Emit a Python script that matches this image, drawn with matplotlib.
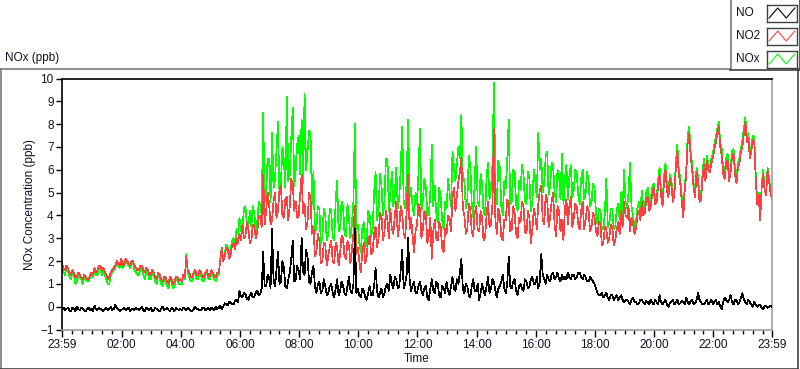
import numpy as np
import matplotlib
matplotlib.use("Agg")
import matplotlib.pyplot as plt
from matplotlib.lines import Line2D

plt.rcParams['font.family'] = ['Liberation Sans', 'DejaVu Sans']

# ---- data: values every 3 minutes, from 23:59 (0 h) to 23:59 next day (24 h) ----
hours = np.linspace(0, 24, 481)

no2 = [
    1.9,1.7,1.6,1.8,1.7,1.5,1.4,1.6,1.5,1.3, 1.3,1.5,1.4,1.3,1.2,1.4,1.3,1.2,1.2,1.4,
    1.5,1.4,1.7,1.5,1.6,1.8,1.8,1.6,1.7,1.5, 1.4,1.2,1.3,1.5,1.6,1.7,1.8,2.0,1.9,1.8,
    2.1,1.8,1.9,2.1,2.0,1.9,1.8,2.0,2.0,1.8, 1.7,1.6,1.6,1.8,1.8,1.6,1.5,1.7,1.6,1.4,
    1.4,1.6,1.5,1.3,1.2,1.5,1.4,1.2,1.1,1.3, 1.3,1.1,1.0,1.3,1.2,1.0,1.1,1.3,1.3,1.1,
    1.2,1.1,1.4,1.3,2.2,1.6,1.5,1.3,1.3,1.5, 1.6,1.4,1.4,1.6,1.5,1.3,1.3,1.5,1.6,1.3,
    1.4,1.6,1.5,1.3,1.3,1.5,1.5,2.0,2.6,2.0, 2.2,2.6,2.5,2.1,2.3,2.7,2.8,2.5,3.0,2.8,
    3.2,2.9,3.6,3.0,3.1,3.7,3.4,2.8,2.9,3.6, 3.5,3.0,3.3,3.9,4.0,3.5,5.8,3.6,4.2,5.0,
    4.5,3.6,3.8,4.6,5.0,3.9,4.2,5.1,5.3,4.0, 3.9,4.7,4.8,3.8,4.4,5.6,5.4,4.2,4.6,3.9,
    4.0,4.9,5.8,4.1,4.5,3.4,3.7,5.0,4.8,3.2, 3.5,2.2,2.4,3.2,2.9,1.9,2.0,2.8,2.7,1.8,
    2.2,2.6,2.9,2.0,1.9,2.8,2.6,1.8,2.3,3.1, 3.0,2.2,2.1,2.9,2.7,1.9,2.5,3.2,4.4,2.3,
    2.6,2.0,1.5,2.4,2.8,1.9,2.2,3.0,3.1,2.3, 2.4,3.2,3.5,2.6,3.0,4.1,4.0,2.9,3.3,4.2,
    3.8,3.0,4.3,3.4,3.2,4.0,4.6,3.1,3.5,4.4, 4.1,3.2,3.0,4.2,5.8,3.4,3.9,3.1,2.4,3.3,
    3.6,4.5,4.3,3.0,3.4,4.2,4.0,2.8,3.1,3.9, 2.1,3.3,3.8,3.0,2.9,3.7,3.5,2.6,2.4,3.4,
    3.2,4.0,3.9,3.3,4.8,5.2,4.2,4.9,5.5,5.9, 6.5,4.3,4.0,3.2,3.4,4.5,4.3,3.3,3.1,4.1,
    4.4,3.4,3.3,4.2,3.9,2.9,3.0,4.0,4.6,3.5, 3.6,4.5,7.8,3.8,3.2,4.3,4.0,3.1,2.9,3.8,
    3.8,4.7,4.5,3.3,3.4,4.4,4.1,3.2,3.0,3.9, 3.7,4.6,4.4,3.3,3.2,4.2,3.9,2.8,3.4,4.3,
    4.0,3.4,4.5,5.1,5.3,3.8,3.6,4.9,4.7,3.5, 3.9,4.6,5.0,3.6,3.1,4.4,4.2,3.3,3.8,2.9,
    4.3,4.7,3.6,4.4,4.8,3.5,3.9,4.5,4.4,3.6, 3.4,4.2,4.6,3.4,3.8,4.4,4.2,3.3,3.5,4.1,
    4.0,3.3,3.1,3.7,3.6,2.7,2.8,3.5,3.4,2.8, 3.0,3.6,3.5,2.7,2.9,3.4,3.7,3.2,4.2,3.5,
    4.6,4.0,3.9,4.4,3.3,3.9,3.7,3.2,3.4,4.0, 4.2,3.8,4.6,4.0,4.1,4.7,4.8,4.2,4.4,4.9,
    5.2,4.5,4.6,5.3,5.8,4.9,4.4,5.5,6.0,5.1, 4.8,5.6,5.3,4.6,4.9,6.1,6.8,5.8,5.4,4.6,
    3.9,5.1,5.8,7.2,7.6,6.6,6.0,5.2,4.8,5.9, 5.5,4.6,4.7,5.6,6.2,5.5,6.4,6.0,5.9,6.3,
    6.5,6.9,7.2,7.6,7.9,7.0,6.6,5.8,5.6,6.3, 6.4,5.5,5.9,6.6,6.7,5.8,5.4,6.1,6.3,6.8,
    7.0,7.6,8.1,7.2,7.4,6.5,6.8,7.3,7.2,5.6, 4.5,4.9,3.8,5.2,5.8,5.1,4.9,6.0,5.5,5.0,
    4.7,
]

nox = [
    1.8,1.5,1.4,1.7,1.6,1.3,1.2,1.5,1.4,1.0, 1.1,1.4,1.3,1.2,1.0,1.3,1.2,1.1,1.1,1.3,
    1.4,1.3,1.6,1.4,1.4,1.7,1.7,1.4,1.6,1.4, 1.2,1.0,1.0,1.4,1.5,1.6,1.7,1.9,1.8,1.7,
    2.0,1.7,1.8,2.0,1.9,1.8,1.7,1.9,1.9,1.6, 1.5,1.4,1.4,1.7,1.7,1.4,1.2,1.6,1.5,1.2,
    1.2,1.5,1.4,1.1,1.0,1.4,1.3,1.0,0.9,1.2, 1.2,0.9,0.8,1.2,1.1,0.8,0.9,1.2,1.2,1.0,
    1.0,1.0,1.3,1.2,2.3,1.5,1.3,1.1,1.1,1.4, 1.5,1.2,1.2,1.5,1.4,1.1,1.1,1.4,1.5,1.2,
    1.2,1.5,1.4,1.2,1.1,1.4,1.4,2.1,2.6,2.1, 2.3,2.7,2.6,2.2,2.5,2.9,3.0,2.7,3.4,3.2,
    3.9,3.3,3.4,4.3,4.4,3.6,3.5,4.2,3.5,4.4, 4.1,3.4,3.7,4.6,4.5,4.0,8.5,4.6,5.0,6.5,
    6.5,4.6,7.6,5.2,5.6,6.8,8.1,5.0,5.4,7.0, 6.4,5.2,9.2,5.5,5.8,7.4,8.7,5.3,6.0,7.1,
    7.5,5.8,8.2,5.4,9.35,6.0,6.8,7.7,7.6,4.5, 5.9,3.2,3.5,4.4,4.3,2.8,3.0,4.3,4.0,2.9,
    3.2,4.3,4.2,3.1,2.9,4.6,5.5,3.3,3.4,4.6, 4.4,3.2,3.1,4.5,3.9,3.0,3.6,4.6,8.0,3.4,
    3.6,2.8,2.4,3.4,3.7,2.6,2.8,4.2,4.0,3.1, 3.4,5.0,5.9,3.8,4.2,5.8,5.3,4.0,4.6,6.5,
    6.5,4.2,5.0,5.9,4.4,4.9,6.1,4.3,4.8,6.0, 7.9,4.6,4.3,5.5,8.2,4.8,5.2,4.4,4.0,5.0,
    4.5,5.8,7.8,4.2,4.7,5.6,5.2,4.0,4.0,5.0, 7.1,4.4,5.3,4.1,3.7,5.2,4.8,3.8,3.4,4.6,
    4.3,5.6,5.0,4.4,6.8,6.1,5.5,6.3,7.0,6.5, 8.4,5.5,5.6,4.3,4.6,6.6,6.2,4.5,3.9,5.4,
    7.0,4.6,4.4,5.8,5.4,4.1,4.0,5.6,6.3,4.7, 5.2,6.2,9.8,5.3,4.5,6.4,6.1,4.4,4.0,5.5,
    5.2,6.4,8.2,4.5,4.6,6.0,5.9,4.5,4.2,5.5, 5.1,6.2,5.8,4.6,4.5,5.9,5.6,4.2,4.6,6.0,
    5.5,4.8,7.6,6.0,6.5,5.0,5.4,6.6,6.8,4.9, 5.3,6.3,6.2,5.0,4.6,6.0,5.8,4.7,6.7,4.5,
    5.6,6.2,4.7,5.7,6.2,4.8,5.1,6.0,5.8,4.9, 4.5,5.6,6.0,4.7,5.0,5.9,5.5,4.4,4.6,5.4,
    5.2,4.1,3.6,4.3,4.2,3.4,3.4,4.1,5.6,3.5, 3.6,4.3,4.3,3.4,3.5,4.2,4.5,3.8,5.0,4.1,
    6.0,4.6,4.3,5.0,6.3,4.4,4.0,3.5,3.7,4.3, 4.6,4.1,5.1,4.3,4.4,5.0,5.2,4.5,4.7,5.2,
    5.4,4.7,4.8,5.5,6.1,5.1,4.6,5.7,6.3,5.3, 5.0,5.8,5.5,4.8,5.1,6.3,7.1,6.0,5.6,4.8,
    4.1,5.3,6.0,7.5,7.9,6.8,6.2,5.4,5.0,6.1, 5.7,4.8,4.9,5.8,6.5,5.7,6.6,6.2,6.1,6.5,
    6.7,7.1,7.4,7.8,8.1,7.2,6.9,6.0,5.8,6.5, 6.7,5.7,6.1,6.8,6.9,6.0,5.6,6.3,6.5,7.0,
    7.3,7.8,8.3,7.4,7.6,6.7,7.0,7.5,7.4,5.8, 4.6,5.0,3.9,5.3,6.0,5.2,5.0,6.1,5.6,5.1,
    4.8,
]

no = [
    -0.1,-0.05,-0.15,-0.1,-0.05,-0.15,-0.2,-0.05,-0.1,-0.2, 0.0,-0.1,-0.15,-0.05,-0.1,-0.15,-0.2,-0.1,-0.05,-0.15,
    -0.1,-0.2,0.05,-0.1,-0.15,-0.05,-0.1,-0.15,-0.2,-0.1, -0.05,-0.15,-0.1,0.0,-0.15,-0.1,0.1,-0.05,-0.1,-0.2,
    -0.15,-0.1,-0.05,-0.15,-0.1,-0.05,-0.2,-0.1,-0.1,-0.15, -0.05,-0.1,-0.15,-0.1,0.0,-0.15,-0.2,-0.05,-0.1,-0.15,
    -0.05,-0.2,-0.15,-0.05,-0.1,-0.15,-0.2,-0.1,0.0,-0.15, -0.1,-0.05,-0.15,-0.2,-0.05,-0.1,-0.2,-0.05,-0.1,-0.15,
    -0.1,-0.15,-0.05,-0.1,-0.15,-0.05,-0.1,-0.2,-0.2,-0.1, 0.0,-0.1,-0.1,-0.15,-0.15,-0.05,-0.05,-0.15,-0.1,-0.05,
    -0.15,-0.05,-0.1,-0.15,0.0,-0.1,-0.05,0.05,-0.1,0.0, 0.15,0.1,0.05,0.2,0.2,0.1,0.1,0.25,0.3,0.2,
    0.7,0.45,0.4,0.6,0.55,0.35,0.3,0.5,0.6,0.4, 0.45,0.6,0.7,0.5,0.55,0.8,2.4,0.9,0.9,1.4,
    1.3,0.8,3.4,1.2,0.9,1.6,2.4,1.0,1.1,2.0, 1.7,0.9,0.8,1.2,1.5,2.1,2.9,1.1,1.2,1.8,
    1.6,1.2,3.0,1.5,1.4,2.5,2.2,1.1,1.0,1.5, 1.8,0.9,0.6,1.0,1.1,0.6,0.7,1.2,0.9,0.5,
    0.6,0.9,1.0,0.6,0.4,0.8,1.2,0.5,0.7,1.1, 0.9,0.6,0.5,0.9,1.3,0.7,0.6,1.0,3.4,0.6,
    0.8,0.5,0.4,0.8,0.7,0.4,0.3,0.6,0.9,0.5, 0.5,0.9,1.7,0.7,0.4,0.6,0.8,0.4,0.6,0.9,
    1.0,0.7,1.4,1.0,0.8,1.3,1.2,0.8,0.9,1.6, 2.5,0.8,1.0,1.4,3.0,1.2,0.7,0.9,1.1,0.6,
    0.6,0.9,1.1,0.7,0.5,0.8,0.9,0.4,0.3,0.8, 1.2,0.7,0.6,1.1,1.0,0.5,0.4,0.9,0.8,0.6,
    1.1,0.7,0.5,0.9,1.3,0.8,0.7,1.2,1.0,1.5, 2.1,0.8,0.6,1.0,0.9,0.5,0.4,0.9,1.2,0.7,
    0.7,1.0,0.3,0.6,1.0,0.7,0.5,0.9,1.3,0.6, 0.8,1.2,1.1,0.7,0.4,0.8,0.9,1.1,1.4,0.8,
    0.6,1.0,2.2,0.9,0.8,1.1,1.2,0.7,0.5,0.9, 1.0,0.8,0.7,1.2,1.1,0.8,0.9,1.2,1.3,1.0,
    1.0,1.3,0.8,1.1,2.3,1.4,1.2,1.0,1.4,1.2, 1.1,1.4,1.5,1.2,1.3,1.5,1.2,1.1,1.4,1.2,
    1.3,1.2,1.5,1.3,1.2,1.4,1.4,1.2,1.3,1.5, 1.5,1.3,1.2,1.4,1.3,1.1,1.1,1.3,1.2,1.1,
    1.0,0.8,0.6,0.5,0.5,0.6,0.4,0.5,0.6,0.4, 0.3,0.5,0.5,0.3,0.4,0.5,0.3,0.4,0.5,0.3,
    0.2,0.3,0.3,0.2,0.1,0.3,0.4,0.2,0.2,0.1, 0.15,0.3,0.3,0.2,0.1,0.25,0.2,0.1,0.3,0.2,
    0.1,0.3,0.2,0.1,0.5,0.2,0.1,0.2,0.3,0.1, 0.0,0.15,0.2,0.3,0.1,0.2,0.3,0.1,0.15,0.25,
    0.2,0.1,0.4,0.2,0.1,0.25,0.3,0.1,0.15,0.3, 0.6,0.3,0.2,0.1,0.1,0.2,0.3,0.1,0.2,0.3,
    0.1,0.2,0.3,0.1,0.2,0.0,-0.1,0.2,0.4,0.3, 0.2,0.3,0.5,0.2,0.1,0.3,0.3,0.1,0.2,0.4,
    0.6,0.3,0.2,0.1,0.3,0.2,0.1,0.0,0.2,0.1, 0.0,0.05,0.1,-0.05,-0.1,0.0,0.05,-0.05,0.0,0.05,
    0.0,
]

tick_labels = ["23:59", "02:00", "04:00", "06:00", "08:00", "10:00", "12:00",
               "14:00", "16:00", "18:00", "20:00", "22:00", "23:59"]
series_names = ["NO", "NO2", "NOx"]
colors = {"NO": "#000000", "NO2": "#ff4040", "NOx": "#00ff00"}

# ---- figure ----
W, H = 800, 369
fig = plt.figure(figsize=(W / 100, H / 100), dpi=100)
fig.patch.set_facecolor("white")

def fx(px):
    return px / W

def fy(py):
    return 1 - py / H

ax = fig.add_axes([fx(62), fy(329.5), fx(772) - fx(62), fy(78.5) - fy(329.5)])
ax.plot(hours, no, color=colors["NO"], lw=0.5, zorder=3, antialiased=False)
ax.plot(hours, nox, color=colors["NOx"], lw=0.5, zorder=2, antialiased=False)
ax.plot(hours, no2, color=colors["NO2"], lw=0.5, zorder=2.5, antialiased=False)

ax.set_xlim(0, 24)
ax.set_ylim(-1, 10)
major_pos = [0] + [k + 1 / 60 for k in range(2, 24, 2)] + [24]
ax.set_xticks(major_pos)
ax.set_xticklabels(tick_labels)
minor_pos = [k / 3 + 1 / 60 for k in range(0, 72) if k % 6 != 0]
ax.set_xticks(minor_pos, minor=True)
ax.set_yticks(range(-1, 11))

txt_color = "#101028"
ax.tick_params(axis="x", which="major", length=5, width=1, color="black",
               labelsize=8.5, labelcolor=txt_color, pad=2)
ax.tick_params(axis="x", which="minor", length=3, width=1, color="black")
ax.tick_params(axis="y", which="major", length=4, width=1, color="black",
               labelsize=8.5, labelcolor=txt_color, pad=2)

for s in ("top", "left"):
    ax.spines[s].set_color("black")
    ax.spines[s].set_linewidth(1.2)
for s in ("right", "bottom"):
    ax.spines[s].set_color("#a0a0a0")
    ax.spines[s].set_linewidth(1.2)

ax.set_ylabel("NOx Concentration (ppb)", fontsize=8.5, color=txt_color, labelpad=3)
ax.set_xlabel("Time", fontsize=8.5, color=txt_color, labelpad=1)

# ---- outer frame ----
frame_c = "#7a7a7a"
def fline(x0, y0, x1, y1, c=frame_c, lw=1.2):
    fig.add_artist(Line2D([fx(x0), fx(x1)], [fy(y0), fy(y1)], color=c, lw=lw,
                          transform=fig.transFigure))

fline(0.5, 69, 0.5, 368.5)
fline(0, 69, 730, 69)
fline(0, 368.5, 798, 368.5, c="#404040")
fline(798, 69, 798, 368.5, c="#404040")
# legend panel
fline(730.5, 0, 730.5, 69)
fline(730, 69.5, 800, 69.5, c="#404040")
fline(799.5, 0, 799.5, 69.5, c="#404040")

fig.text(fx(5), fy(58), "NOx (ppb)", fontsize=8.5, color=txt_color,
         ha="left", va="center")

# legend entries
leg_rows = [13, 36, 59]
for name, yc in zip(series_names, leg_rows):
    fig.text(fx(736), fy(yc), name, fontsize=8.5, color=txt_color,
             ha="left", va="center")
    lax = fig.add_axes([fx(767), fy(yc + 8.5), fx(797) - fx(767), fy(yc - 8.5) - fy(yc + 8.5)])
    lax.set_xlim(-0.25, 3.25)
    lax.set_ylim(-0.35, 1.35)
    lax.plot([0, 1, 2, 3], [0, 1, 0, 1], color=colors[name], lw=0.8)
    lax.set_xticks([])
    lax.set_yticks([])
    for s in lax.spines.values():
        s.set_color("#404040")
        s.set_linewidth(1.0)

fig.savefig("out.png", dpi=100)
